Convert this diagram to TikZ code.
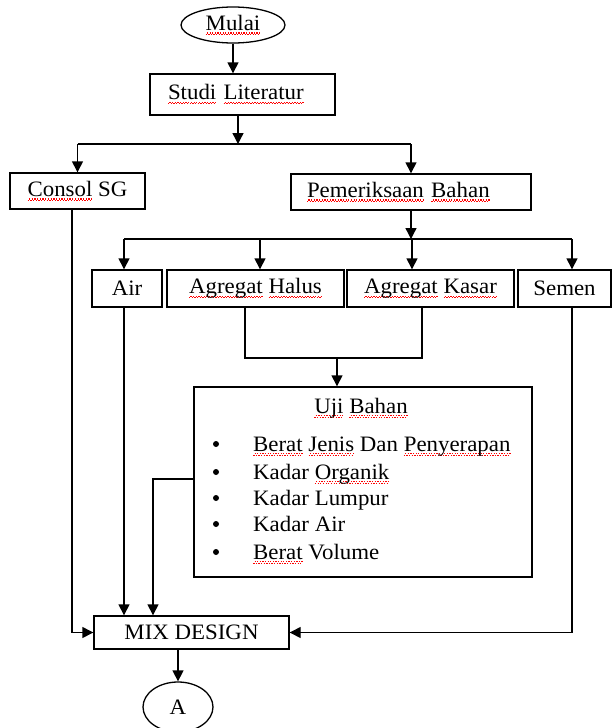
\documentclass[tikz,border=0pt]{standalone}
\usepackage{fontspec}
\setmainfont{Liberation Serif}[FakeStretch=1.04]
\usetikzlibrary{arrows.meta,shapes.geometric}
\newcommand\squigpart{\vrule width 1.3pt height 0pt depth 1.2pt\raise1.3pt\hbox{\vrule width 1.3pt height 0pt depth 1.2pt}}
\newcommand\spell[1]{\setbox0\hbox{#1}\leavevmode\rlap{\textcolor{red}{\lower3.5pt\hbox to\wd0{\xleaders\hbox{\squigpart}\hfil}}}\box0\relax}
\tikzset{
  every node/.style={font=\fontsize{22}{26}\selectfont, text=black},
  box/.style={draw, line width=1.4pt, inner sep=0pt, rectangle},
  oval/.style={draw, line width=1.3pt, ellipse, inner sep=0pt},
  conn/.style={line width=1.4pt},
  arr/.style={line width=1.4pt, -{Triangle[length=11pt,width=11pt]}},
  txt/.style={inner sep=0pt, anchor=base west},
  bul/.style={circle, fill=black, inner sep=0pt, minimum size=6pt}
}
\begin{document}
\begin{tikzpicture}[x=1pt,y=-1pt]
\useasboundingbox (0,0) rectangle (614,728);
% nodes
\node[oval, minimum width=104pt, minimum height=36pt] (mulai) at (233,25) {\spell{Mulai}};
\node[box, minimum width=185pt, minimum height=41pt, text width=149pt, inner xsep=18pt, align=left] (studi) at (242.5,94.5) {\spell{Studi} \spell{Literatur}};
\node[box, minimum width=135pt, minimum height=36pt] (consol) at (77.5,191) {\spell{Consol} SG};
\node[box, minimum width=240pt, minimum height=36pt, text width=208pt, inner xsep=16pt, align=left] (pem) at (411,192) {\spell{Pemeriksaan} \spell{Bahan}};
\node[box, minimum width=70pt, minimum height=37pt] (air) at (127,288.5) {Air};
\node[box, minimum width=177pt, minimum height=37pt] (halus) at (255.5,288.5) {\spell{Agregat} \spell{Halus}};
\node[box, minimum width=167pt, minimum height=37pt] (kasar) at (430.5,288.5) {\spell{Agregat} \spell{Kasar}};
\node[box, minimum width=93pt, minimum height=37pt] (semen) at (564.5,288.5) {Semen};
\node[box, minimum width=338pt, minimum height=190pt] (uji) at (363,482) {};
\node[inner sep=0pt, anchor=base] (ujit) at (361,413) {\spell{Uji} \spell{Bahan}};
\node[txt] (i1) at (253,451) {\spell{Berat} \spell{Jenis} Dan \spell{Penyerapan}};
\node[txt] (i2) at (253,479) {Kadar \spell{Organik}};
\node[txt] (i3) at (253,505) {Kadar Lumpur};
\node[txt] (i4) at (253,531) {Kadar Air};
\node[txt] (i5) at (253,559) {\spell{Berat} Volume};
\node[bul] (b1) at (216,444) {};
\node[bul] (b2) at (216,472) {};
\node[bul] (b3) at (216,498) {};
\node[bul] (b4) at (216,524) {};
\node[bul] (b5) at (216,552) {};
\node[box, minimum width=195pt, minimum height=33pt] (mix) at (191.5,632.5) {MIX DESIGN};
\node[oval, minimum width=70pt, minimum height=50pt] (A) at (178,707) {A};
% coordinates
\coordinate (j1) at (238,144);
\coordinate (j2) at (411,239);
\coordinate (j3) at (337,358);
\coordinate (uL) at (153,479);
% connectors
\draw[arr] (mulai.south) -- (mulai.south |- studi.north);
\draw[arr] (studi.south -| j1) -- (j1);
\draw[conn] (consol.north |- j1) -- (pem.north |- j1);
\draw[arr] (consol.north |- j1) -- (consol.north);
\draw[arr] (pem.north |- j1) -- (pem.north);
\draw[arr] (pem.south) -- (j2);
\draw[conn] (124,239) -- (572,239);
\draw[arr] (124,239) -- (124,0 |- air.north);
\draw[arr] (260,239) -- (260,0 |- halus.north);
\draw[arr] (412,239) -- (412,0 |- kasar.north);
\draw[arr] (572,239) -- (572,0 |- semen.north);
\draw[conn] (245,0 |- halus.south) -- (245,358) -- (422,358) -- (422,0 |- kasar.south);
\draw[arr] (j3) -- (j3 |- uji.north);
\draw[arr] (124,0 |- air.south) -- (124,0 |- mix.north);
\draw[arr] (uji.west |- uL) -- (uL) -- (uL |- mix.north);
\draw[arr] (72,0 |- consol.south) -- (72,0 |- mix.west) -- (mix.west);
\draw[arr] (572,0 |- semen.south) -- (572,0 |- mix.east) -- (mix.east);
\draw[arr] (mix.south -| A.north) -- (A.north);
\end{tikzpicture}
\end{document}
